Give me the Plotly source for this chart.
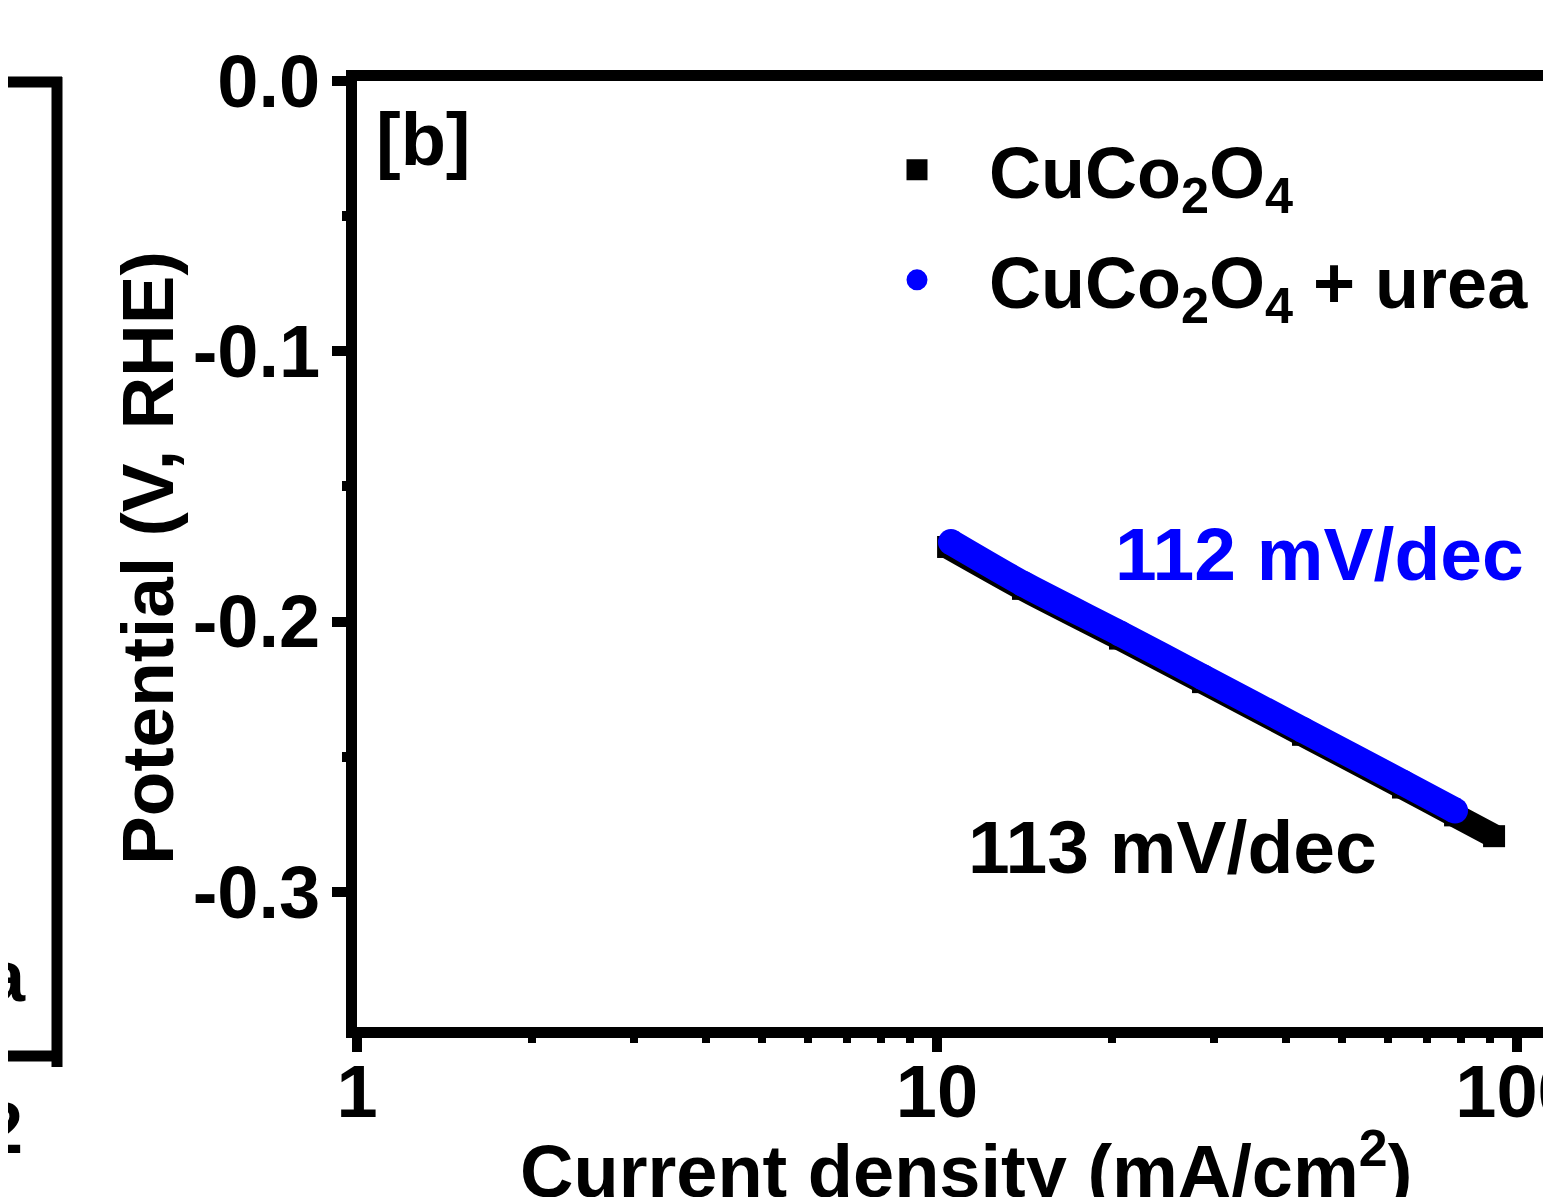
import plotly.graph_objects as go

# ---- data ----
cuco_x = [10.45, 14.07, 20.68, 28.75, 42.76, 63.6, 78.2, 91.3]
cuco_y = [-0.1724, -0.1879, -0.2063, -0.2224, -0.2419, -0.2614, -0.2717, -0.2794]
urea_x = [10.57, 14.07, 20.68, 28.75, 42.76, 63.6, 78.2]
urea_y = [-0.1706, -0.1860, -0.2044, -0.2206, -0.2401, -0.2596, -0.2699]

names = ["CuCo<sub>2</sub>O<sub>4</sub>", "CuCo<sub>2</sub>O<sub>4</sub> + urea"]
slopes = ["113 mV/dec", "112 mV/dec"]
x_title = "Current density (mA/cm<sup>2</sup>)"
y_title = "Potential (V, RHE)"

x_tickvals = [1, 10, 100]
x_ticktext = ["1", "10", "100"]
x_minor = [2, 3, 4, 5, 6, 7, 8, 9, 20, 30, 40, 50, 60, 70, 80, 90]
y_tickvals = [0.0, -0.1, -0.2, -0.3]
y_ticktext = ["0.0", "-0.1", "-0.2", "-0.3"]
y_minor = [-0.05, -0.15, -0.25]

# page offset (body margin) compensation
OFF = 8
W, H = 1551 - OFF, 1197 - OFF
L, R, T = 357 - OFF, 0, 81 - OFF
B = H - (1027 - OFF)
PW, PH = W - L - R, H - T - B
FONT = "Liberation Sans, Arial, Helvetica, sans-serif"
BLUE = "#0000FF"


def px(xs):
    return (xs - OFF - L) / PW


def py(ys):
    return 1 - (ys - OFF - T) / PH


def bold(size, color="black"):
    return dict(family=FONT, size=size, color=color, weight="bold")


fig = go.Figure()

fig.add_trace(go.Scatter(
    x=cuco_x, y=cuco_y, mode="lines+markers",
    line=dict(color="black", width=24, shape="spline", smoothing=0.6),
    marker=dict(symbol="square", size=22, color="black"),
    showlegend=False, hoverinfo="skip"))
fig.add_trace(go.Scatter(
    x=urea_x, y=urea_y, mode="lines+markers",
    line=dict(color=BLUE, width=26, shape="spline", smoothing=0.6),
    marker=dict(symbol="circle", size=26, color=BLUE),
    showlegend=False, hoverinfo="skip"))

# legend entries
fig.add_trace(go.Scatter(
    x=[None], y=[None], mode="markers", name=names[0],
    marker=dict(symbol="square", size=16, color="black",
                line=dict(color="black", width=5)), legend="legend"))
fig.add_trace(go.Scatter(
    x=[None], y=[None], mode="markers", name=names[1],
    marker=dict(symbol="circle", size=16, color=BLUE,
                line=dict(color=BLUE, width=5)), legend="legend2"))

axis_common = dict(
    showline=True, linecolor="black", linewidth=11, showgrid=False,
    zeroline=False, ticks="outside", tickcolor="black", tickwidth=10,
    automargin=False, ticklabeloverflow="allow",
    tickfont=bold(74),
)

frame = dict(type="line", xref="paper", yref="paper",
             line=dict(color="black", width=11), layer="above")

fig.update_layout(
    width=W, height=H,
    margin=dict(l=L, r=R, t=T, b=B, pad=0),
    paper_bgcolor="white", plot_bgcolor="white",
    font=dict(family=FONT, color="black", weight="bold"),
    xaxis=dict(
        type="log", range=[0, (1551 - 357) / 580], mirror=True,
        tickvals=x_tickvals, ticktext=x_ticktext, ticklen=14,
        ticklabelstandoff=-24,
        minor=dict(tickvals=x_minor, ticks="outside", ticklen=5,
                   tickwidth=8, tickcolor="black"),
        **axis_common),
    yaxis=dict(
        range=[-0.35, 0.0], mirror=False,
        tickvals=y_tickvals, ticktext=y_ticktext, ticklen=14,
        ticklabelstandoff=-3,
        minor=dict(tickvals=y_minor, ticks="outside", ticklen=4,
                   tickwidth=10, tickcolor="black"),
        **axis_common),
    shapes=[
        dict(frame, x0=px(-20), x1=px(62), y0=py(82), y1=py(82)),
        dict(frame, x0=px(-20), x1=px(62), y0=py(1056), y1=py(1056)),
        dict(frame, x0=px(57), x1=px(57), y0=py(77), y1=py(1067)),
    ],
    legend=dict(x=px(845), y=py(170), xanchor="left", yanchor="middle",
                bgcolor="rgba(0,0,0,0)", itemwidth=134, font=bold(72)),
    legend2=dict(x=px(845), y=py(280), xanchor="left", yanchor="middle",
                 bgcolor="rgba(0,0,0,0)", itemwidth=134, font=bold(72)),
    annotations=[
        dict(text=y_title, textangle=-90, xref="paper", yref="paper",
             x=px(147), y=py(558), xanchor="center", yanchor="middle",
             showarrow=False, font=bold(73)),
        dict(text=x_title, xref="paper", yref="paper",
             x=px(966), y=py(1166), xanchor="center", yanchor="middle",
             showarrow=False, font=bold(74)),
        dict(text="[b]", xref="paper", yref="paper", x=px(374),
             y=py(139), xanchor="left", yanchor="middle",
             showarrow=False, font=bold(74)),
        dict(text=slopes[1], xref="paper", yref="paper", x=px(1113),
             y=py(554), xanchor="left", yanchor="middle",
             showarrow=False, font=bold(75, BLUE)),
        dict(text=slopes[0], xref="paper", yref="paper", x=px(966),
             y=py(847), xanchor="left", yanchor="middle",
             showarrow=False, font=bold(75)),
        dict(text="a", xref="paper", yref="paper", x=px(28),
             y=py(976), xanchor="right", yanchor="middle",
             showarrow=False, font=bold(72)),
        dict(text="2", xref="paper", yref="paper", x=px(25),
             y=py(1128), xanchor="right", yanchor="middle",
             showarrow=False, font=bold(72)),
    ],
)

fig.write_html("out.html")
